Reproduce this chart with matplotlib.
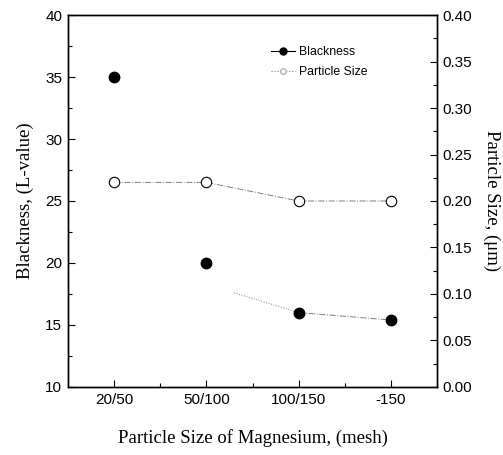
import matplotlib.pyplot as plt
from matplotlib.ticker import MultipleLocator

# data
categories = ["20/50", "50/100", "100/150", "-150"]
blackness = [35, 20, 16, 15.4]          # L-value, left axis
particle_size = [0.22, 0.22, 0.20, 0.20]  # um, right axis

x = list(range(len(categories)))

fig = plt.figure(figsize=(5.03, 4.55), dpi=100)
ax = fig.add_axes([0.135, 0.1495, 0.734, 0.8175])
ax2 = ax.twinx()

# connecting lines (thin grey, as in the original)
ax.plot(x[2:], blackness[2:], color="0.5", lw=0.7, ls="-.")
# partial curve leading into 100/150
f = 0.3
ax.plot([x[1] + f * (x[2] - x[1]), x[2]],
        [blackness[1] + f * (blackness[2] - blackness[1]) - 1.2, blackness[2]],
        color="0.5", lw=0.7, ls=":")
ax2.plot(x, particle_size, color="0.5", lw=0.7, ls="-.")

# markers
ax.plot(x, blackness, "o", color="black", ms=7.5, ls="none", zorder=5)
ax2.plot(x, particle_size, "o", mfc="white", mec="black", mew=0.8, ms=7.5,
         ls="none", zorder=5)

# legend handles
ax.plot([], [], "-o", color="black", ms=5, lw=0.8, label="Blackness")
ax.plot([], [], ":o", color="0.5", mfc="white", mec="0.7", ms=4, lw=0.8,
        label="Particle Size")
leg = ax.legend(loc="upper left", bbox_to_anchor=(0.52, 0.945), frameon=False,
                prop={"family": "Liberation Sans", "size": 8.8},
                handlelength=2.0, handletextpad=0.3, labelspacing=0.65)

ax.set_xlim(-0.5, 3.5)
ax.set_ylim(10, 40)
ax2.set_ylim(0, 0.40)

ax.set_xticks(x)
ax.set_xticklabels(categories)
ax.xaxis.set_minor_locator(MultipleLocator(0.5))
ax.yaxis.set_major_locator(MultipleLocator(5))
ax.yaxis.set_minor_locator(MultipleLocator(2.5))
ax2.yaxis.set_major_locator(MultipleLocator(0.05))
ax2.yaxis.set_minor_locator(MultipleLocator(0.025))
ax2.set_yticklabels([f"{v:.2f}" for v in ax2.get_yticks()])

for a in (ax, ax2):
    a.tick_params(which="both", direction="in", width=0.8)
    a.tick_params(which="major", length=5, labelsize=11, pad=4)
    a.tick_params(which="minor", length=3)
    for lab in a.get_xticklabels() + a.get_yticklabels():
        lab.set_family("Liberation Sans")
    for s in a.spines.values():
        s.set_linewidth(1.0)

ax.set_xlabel("Particle Size of Magnesium, (mesh)", family="Liberation Serif",
              fontsize=13.5, labelpad=16)
ax.set_ylabel("Blackness, (L-value)", family="Liberation Serif", fontsize=13.5,
              labelpad=8)
ax2.set_ylabel("Particle Size, (\u03bcm)", family="Liberation Serif",
               fontsize=13.5, rotation=-90, labelpad=20)

fig.savefig("out.png", dpi=100)
